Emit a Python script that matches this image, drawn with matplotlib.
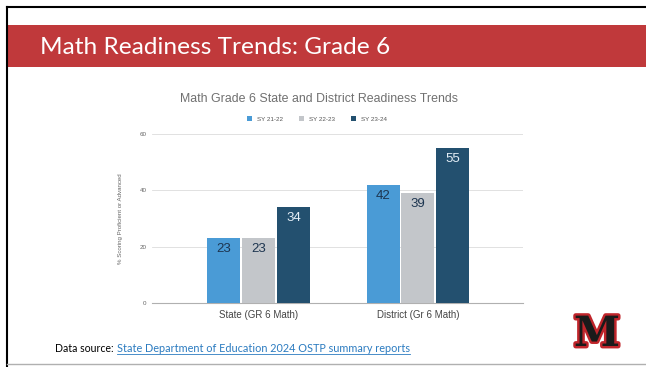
import matplotlib.pyplot as plt
import matplotlib.patheffects as pe
from matplotlib.patches import Rectangle
import numpy as np

categories = ["State (GR 6 Math)", "District (Gr 6 Math)"]
series_names = ["SY 21-22", "SY 22-23", "SY 23-24"]
sy_21_22 = [23, 42]
sy_22_23 = [23, 39]
sy_23_24 = [34, 55]
y_ticks = [0, 20, 40, 60]

colors = ["#4a9bd6", "#c3c6ca", "#23506f"]
label_colors = ["#1d3550", "#1d3550", "#e4eef6"]

plt.rcParams["font.family"] = ["Liberation Sans", "DejaVu Sans"]

fig = plt.figure(figsize=(6.46, 3.67), dpi=100)
W, H = 646, 367

# slide frame and banner
fig.add_artist(plt.Line2D([7 / W, 7 / W], [0, 1 - 7 / H], color="black", lw=1.5))
fig.add_artist(plt.Line2D([7 / W, 1], [1 - 7 / H, 1 - 7 / H], color="black", lw=1.5))
fig.add_artist(plt.Line2D([7 / W, 1], [1 - 364 / H, 1 - 364 / H], color="#b0b0b0", lw=1))
fig.add_artist(Rectangle((8 / W, 1 - 67 / H), 1 - 8 / W, 42 / H,
                         transform=fig.transFigure, color="#c0393b", lw=0))
fig.text(40 / W, 1 - 47 / H, "Math Readiness Trends: Grade 6", color="white",
         fontsize=17.6, family="Lato", va="center", ha="left")

# chart title and legend
fig.text(319 / W, 1 - 99 / H, "Math Grade 6 State and District Readiness Trends",
         color="#707070", fontsize=8.9, ha="center", va="center")

ax = fig.add_axes([152 / W, 1 - 303 / H, 371 / W, 169 / H])
x = np.arange(len(categories))
width = 0.207
series = [sy_21_22, sy_22_23, sy_23_24]
for i, vals in enumerate(series):
    pos = x + (i - 1) * (width + 0.012)
    bars = ax.bar(pos, vals, width, color=colors[i], label=series_names[i], zorder=3)
    for b, v in zip(bars, vals):
        ax.text(b.get_x() + b.get_width() / 2, v - 1.8, str(v), ha="center", va="top",
                fontsize=9.5, color=label_colors[i], zorder=4)

ax.set_xlim(-0.67, 1.66)
ax.set_ylim(0, 60)
ax.set_yticks(y_ticks)
ax.set_yticklabels([str(t) for t in y_ticks], fontsize=4.5, color="#666666")
ax.set_xticks(x)
ax.set_xticklabels(categories, fontsize=7.0, color="#444444")
ax.tick_params(length=0, pad=4)
ax.tick_params(axis="x", pad=5)
ax.grid(axis="y", color="#dcdcdc", lw=0.6, zorder=0)
for s in ["top", "right", "left"]:
    ax.spines[s].set_visible(False)
ax.spines["bottom"].set_color("#b0b0b0")
ax.spines["bottom"].set_linewidth(0.8)
ax.set_ylabel("% Scoring Proficient or Advanced", fontsize=4.4, color="#666666", labelpad=12)

fig.legend(*ax.get_legend_handles_labels(), loc="center",
           bbox_to_anchor=(317 / W, 1 - 119 / H), ncol=3, frameon=False,
           fontsize=4.5, handlelength=0.8, handleheight=0.8, columnspacing=2.5,
           handletextpad=0.8, labelcolor="#555555")

# data source footer
fig.text(55 / W, 1 - 349 / H, "Data source:", fontsize=7.6, family="Lato",
         color="black", va="center")
link = fig.text(117 / W, 1 - 349 / H, "State Department of Education 2024 OSTP summary reports",
                fontsize=7.8, family="Lato", color="#2b7bc0", va="center")
bb = link.get_window_extent(renderer=fig.canvas.get_renderer())
fig.add_artist(plt.Line2D([bb.x0 / W, bb.x1 / W], [1 - 354 / H, 1 - 354 / H],
                          color="#2b7bc0", lw=0.6))

# school logo
logo = fig.text(597 / W, 1 - 334 / H, "M", fontsize=30, family="DejaVu Serif",
                weight="bold", color="#1a1a1a", ha="center", va="center")
logo.set_path_effects([pe.Stroke(linewidth=3.5, foreground="#c0252b"), pe.Normal()])

fig.savefig("out.png", dpi=100)
